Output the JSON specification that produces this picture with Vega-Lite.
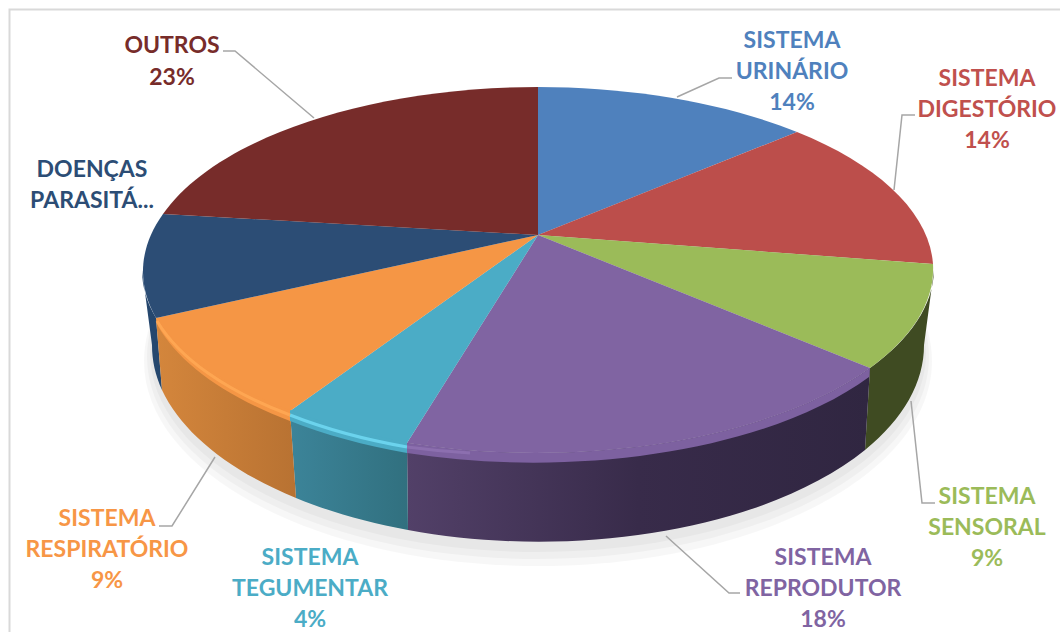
{"$schema":"https://vega.github.io/schema/vega-lite/v6.json","width":1060,"height":632,"padding":0,"autosize":"none","background":"white","config":{"view":{"stroke":null}},
"datasets":{"slices":[
{"slice":"SISTEMA URINÁRIO","share":14,"label":"SISTEMA\nURINÁRIO\n14%"},
{"slice":"SISTEMA DIGESTÓRIO","share":14,"label":"SISTEMA\nDIGESTÓRIO\n14%"},
{"slice":"SISTEMA SENSORAL","share":9,"label":"SISTEMA\nSENSORAL\n9%"},
{"slice":"SISTEMA REPRODUTOR","share":18,"label":"SISTEMA\nREPRODUTOR\n18%"},
{"slice":"SISTEMA TEGUMENTAR","share":4,"label":"SISTEMA\nTEGUMENTAR\n4%"},
{"slice":"SISTEMA RESPIRATÓRIO","share":9,"label":"SISTEMA\nRESPIRATÓRIO\n9%"},
{"slice":"DOENÇAS PARASITÁRIAS","share":9,"label":"DOENÇAS\nPARASITÁ..."},
{"slice":"OUTROS","share":23,"label":"OUTROS\n23%"}],
"decor":[{"part":"a"},{"part":"b"},{"part":"c"}],
"frame":[{"part":"frame"}]},
"resolve":{"scale":{"shape":"independent","color":"independent"}},
"layer":[
{"data":{"name":"frame"},"mark":{"type":"point","filled":false,"size":4,"stroke":"#d9d9d9","strokeWidth":2,"opacity":1},"encoding":{"shape":{"field":"part","type":"nominal","legend":null,"scale":{"domain":["frame"],"range":["M -520.5 316 L -520.5 -306.5 L 530 -306.5"]}}}},
{"data":{"name":"decor"},"mark":{"type":"point","filled":true,"size":4,"fill":"#000000","opacity":0.03},"encoding":{"shape":{"field":"part","type":"nominal","legend":null,"scale":{"domain":["a","b","c"],"range":["M -380 37 A 388 199 0 1 1 396 37 A 388 199 0 1 1 -380 37 Z","M -383 41 A 391 202 0 1 1 399 41 A 391 202 0 1 1 -383 41 Z","M -386 45 A 394 205 0 1 1 402 45 A 394 205 0 1 1 -386 45 Z"]}}}},
{"data":{"name":"slices"},"transform":[{"filter":"datum.slice=='SISTEMA SENSORAL'||datum.slice=='DOENÇAS PARASITÁRIAS'"}],"mark":{"type":"point","filled":true,"size":4,"opacity":1},"encoding":{
"shape":{"field":"slice","type":"nominal","legend":null,"scale":{"domain":["SISTEMA SENSORAL","DOENÇAS PARASITÁRIAS"],"range":[
"M 404 -46 A 396 183 0 0 1 340 52 L 335 134 A 386 197 0 0 0 394 29 Z",
"M -374 2 A 396 183 0 0 1 -388 -46 L -378 29 A 386 197 0 0 0 -368 74 Z"]}},
"color":{"field":"slice","type":"nominal","legend":null,"scale":{"domain":["SISTEMA SENSORAL","DOENÇAS PARASITÁRIAS"],"range":["#3f4b22","#25476e"]}}}},
{"data":{"name":"slices"},"transform":[{"filter":"datum.slice=='SISTEMA REPRODUTOR'"}],"mark":{"type":"point","filled":true,"size":4,"opacity":1,"fill":{"gradient":"linear","x1":0,"x2":1,"y1":0,"y2":0,"stops":[{"offset":0,"color":"#524068"},{"offset":0.5,"color":"#382b4a"},{"offset":1,"color":"#302641"}]}},"encoding":{"shape":{"field":"slice","type":"nominal","legend":null,"scale":{"domain":["SISTEMA REPRODUTOR"],"range":["M 340 52 A 396 183 0 0 1 -123 127 L -122 214 A 386 197 0 0 0 335 134 Z"]}}}},
{"data":{"name":"slices"},"transform":[{"filter":"datum.slice=='SISTEMA TEGUMENTAR'"}],"mark":{"type":"point","filled":true,"size":4,"opacity":1,"fill":{"gradient":"linear","x1":0,"x2":1,"y1":0,"y2":0,"stops":[{"offset":0,"color":"#3c8499"},{"offset":1,"color":"#31707f"}]}},"encoding":{"shape":{"field":"slice","type":"nominal","legend":null,"scale":{"domain":["SISTEMA TEGUMENTAR"],"range":["M -123 127 A 396 183 0 0 1 -240 95 L -234 182 A 386 197 0 0 0 -122 214 Z"]}}}},
{"data":{"name":"slices"},"transform":[{"filter":"datum.slice=='SISTEMA RESPIRATÓRIO'"}],"mark":{"type":"point","filled":true,"size":4,"opacity":1,"fill":{"gradient":"linear","x1":0,"x2":1,"y1":0,"y2":0,"stops":[{"offset":0,"color":"#d4863c"},{"offset":1,"color":"#b87232"}]}},"encoding":{"shape":{"field":"slice","type":"nominal","legend":null,"scale":{"domain":["SISTEMA RESPIRATÓRIO"],"range":["M -240 95 A 396 183 0 0 1 -374 2 L -368 74 A 386 197 0 0 0 -234 182 Z"]}}}},
{"data":{"name":"slices"},"mark":{"type":"point","filled":true,"size":4,"opacity":1},"encoding":{
"shape":{"field":"slice","type":"nominal","legend":null,"scale":{"domain":["SISTEMA URINÁRIO","SISTEMA DIGESTÓRIO","SISTEMA SENSORAL","SISTEMA REPRODUTOR","SISTEMA TEGUMENTAR","SISTEMA RESPIRATÓRIO","DOENÇAS PARASITÁRIAS","OUTROS"],"range":[
"M 8 -81 L 8 -229 A 396 183 0 0 1 267 -184 Z",
"M 8 -81 L 267 -184 A 396 183 0 0 1 403 -52 Z",
"M 8 -81 L 403 -52 A 396 183 0 0 1 340 52 Z",
"M 8 -81 L 340 52 A 396 183 0 0 1 -123 127 Z",
"M 8 -81 L -123 127 A 396 183 0 0 1 -240 95 Z",
"M 8 -81 L -240 95 A 396 183 0 0 1 -374 2 Z",
"M 8 -81 L -374 2 A 396 183 0 0 1 -367 -102 Z",
"M 8 -81 L -367 -102 A 396 183 0 0 1 8 -229 Z"]}},
"color":{"field":"slice","type":"nominal","legend":null,"scale":{"domain":["SISTEMA URINÁRIO","SISTEMA DIGESTÓRIO","SISTEMA SENSORAL","SISTEMA REPRODUTOR","SISTEMA TEGUMENTAR","SISTEMA RESPIRATÓRIO","DOENÇAS PARASITÁRIAS","OUTROS"],"range":["#4f81bd","#bc4e4b","#9bbb59","#8064a2","#4bacc6","#f59645","#2c4d75","#772c2a"]}},
"tooltip":{"field":"share","type":"quantitative"}}},
{"data":{"name":"slices"},"transform":[{"filter":"datum.slice=='SISTEMA TEGUMENTAR'||datum.slice=='SISTEMA RESPIRATÓRIO'||datum.slice=='SISTEMA REPRODUTOR'"}],"mark":{"type":"point","filled":true,"size":4,"opacity":1},"encoding":{
"shape":{"field":"slice","type":"nominal","legend":null,"scale":{"domain":["SISTEMA REPRODUTOR","SISTEMA TEGUMENTAR","SISTEMA RESPIRATÓRIO"],"range":[
"M 340 52 A 396 183 0 0 1 -123 127 L -123 137 A 396 183 0 0 0 339 61 Z",
"M -123 126 A 396 183 0 0 1 -240 94 L -240 105 A 396 183 0 0 0 -123 137 Z",
"M -240 94 A 396 183 0 0 1 -374 1 L -372 10 A 396 183 0 0 0 -240 105 Z"]}},
"color":{"field":"slice","type":"nominal","legend":null,"scale":{"domain":["SISTEMA REPRODUTOR","SISTEMA TEGUMENTAR","SISTEMA RESPIRATÓRIO"],"range":["#7d61a0","#4bacc6","#f59645"]}}}},
{"data":{"name":"slices"},"transform":[{"filter":"datum.slice=='SISTEMA TEGUMENTAR'||datum.slice=='SISTEMA RESPIRATÓRIO'||datum.slice=='SISTEMA REPRODUTOR'"}],"mark":{"type":"point","filled":false,"size":4,"opacity":0.9,"strokeWidth":3},"encoding":{
"shape":{"field":"slice","type":"nominal","legend":null,"scale":{"domain":["SISTEMA REPRODUTOR","SISTEMA TEGUMENTAR","SISTEMA RESPIRATÓRIO"],"range":[
"M -60 137 A 396 183 0 0 1 -123 131",
"M -123 131 A 396 183 0 0 1 -240 99",
"M -240 99 A 396 183 0 0 1 -373 5"]}},
"color":{"field":"slice","type":"nominal","legend":null,"scale":{"domain":["SISTEMA REPRODUTOR","SISTEMA TEGUMENTAR","SISTEMA RESPIRATÓRIO"],"range":["#8e71b1","#6fd8f2","#ffa854"]}}}},
{"data":{"name":"slices"},"transform":[{"filter":"datum.slice!='SISTEMA TEGUMENTAR'&&datum.slice!='DOENÇAS PARASITÁRIAS'"}],"mark":{"type":"point","filled":false,"size":4,"opacity":1,"stroke":"#a6a6a6","strokeWidth":1.5},"encoding":{
"shape":{"field":"slice","type":"nominal","legend":null,"scale":{"domain":["SISTEMA URINÁRIO","SISTEMA DIGESTÓRIO","SISTEMA SENSORAL","SISTEMA REPRODUTOR","SISTEMA RESPIRATÓRIO","OUTROS"],"range":[
"M 202 -238 L 189 -238 L 147 -219",
"M 385 -201 L 372 -201 L 364 -126",
"M 405 187 L 392 187 L 381 85",
"M 210 277 L 199 277 L 136 220",
"M -371 210 L -358 210 L -315 141",
"M -307 -265 L -295 -265 L -216 -198"]}}}},
{"data":{"name":"slices"},"transform":[{"filter":"datum.slice=='SISTEMA URINÁRIO'"}],"mark":{"type":"text","font":"Lato","fontWeight":"bold","fontSize":23,"lineBreak":"\n","lineHeight":31,"align":"center","baseline":"middle","dx":262,"dy":-275,"fill":"#4f81bd"},"encoding":{"text":{"field":"label"}}},
{"data":{"name":"slices"},"transform":[{"filter":"datum.slice=='SISTEMA DIGESTÓRIO'"}],"mark":{"type":"text","font":"Lato","fontWeight":"bold","fontSize":23,"lineBreak":"\n","lineHeight":31,"align":"center","baseline":"middle","dx":457,"dy":-237.5,"fill":"#c0504d"},"encoding":{"text":{"field":"label"}}},
{"data":{"name":"slices"},"transform":[{"filter":"datum.slice=='SISTEMA SENSORAL'"}],"mark":{"type":"text","font":"Lato","fontWeight":"bold","fontSize":23,"lineBreak":"\n","lineHeight":31,"align":"center","baseline":"middle","dx":457,"dy":180.5,"fill":"#9bbb59"},"encoding":{"text":{"field":"label"}}},
{"data":{"name":"slices"},"transform":[{"filter":"datum.slice=='SISTEMA REPRODUTOR'"}],"mark":{"type":"text","font":"Lato","fontWeight":"bold","fontSize":23,"lineBreak":"\n","lineHeight":31,"align":"center","baseline":"middle","dx":293,"dy":242,"fill":"#8064a2"},"encoding":{"text":{"field":"label"}}},
{"data":{"name":"slices"},"transform":[{"filter":"datum.slice=='SISTEMA TEGUMENTAR'"}],"mark":{"type":"text","font":"Lato","fontWeight":"bold","fontSize":23,"lineBreak":"\n","lineHeight":31,"align":"center","baseline":"middle","dx":-220,"dy":242,"fill":"#4bacc6"},"encoding":{"text":{"field":"label"}}},
{"data":{"name":"slices"},"transform":[{"filter":"datum.slice=='SISTEMA RESPIRATÓRIO'"}],"mark":{"type":"text","font":"Lato","fontWeight":"bold","fontSize":23,"lineBreak":"\n","lineHeight":31,"align":"center","baseline":"middle","dx":-423,"dy":202.5,"fill":"#f79646"},"encoding":{"text":{"field":"label"}}},
{"data":{"name":"slices"},"transform":[{"filter":"datum.slice=='DOENÇAS PARASITÁRIAS'"}],"mark":{"type":"text","font":"Lato","fontWeight":"bold","fontSize":23,"lineBreak":"\n","lineHeight":31,"align":"center","baseline":"middle","dx":-438,"dy":-146,"fill":"#2c4d75"},"encoding":{"text":{"field":"label"}}},
{"data":{"name":"slices"},"transform":[{"filter":"datum.slice=='OUTROS'"}],"mark":{"type":"text","font":"Lato","fontWeight":"bold","fontSize":23,"lineBreak":"\n","lineHeight":32,"align":"center","baseline":"middle","dx":-358,"dy":-270.5,"fill":"#772c2a"},"encoding":{"text":{"field":"label"}}}
]}
